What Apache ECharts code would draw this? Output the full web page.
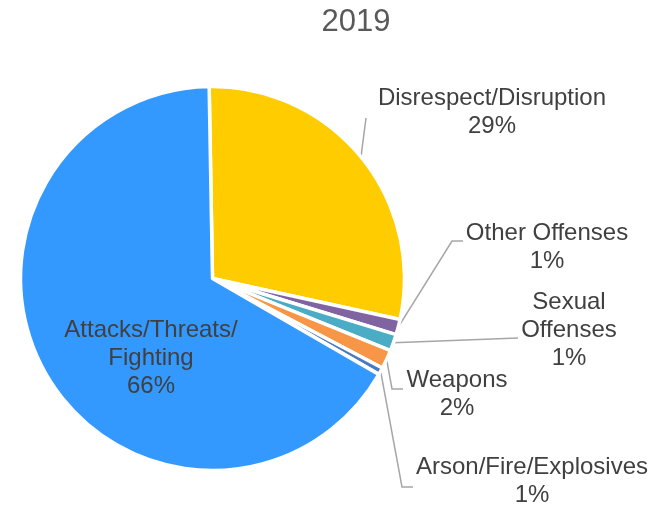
<!DOCTYPE html>
<html>
<head>
<meta charset="utf-8">
<script src="https://cdn.jsdelivr.net/npm/echarts@6/dist/echarts.min.js"></script>
<style>
  html, body { margin: 0; padding: 0; background: #fff; }
  #chart { width: 654px; height: 505px; }
</style>
</head>
<body>
<div id="chart"></div>
<script>
// Discipline incidents by category, 2019 (share of all incidents, %)
const categories = [
  'Disrespect/Disruption',
  'Other Offenses',
  'Sexual Offenses',
  'Weapons',
  'Arson/Fire/Explosives',
  'Attacks/Threats/Fighting'
];
const shares = [28.7, 1.3, 1.4, 1.6, 0.6, 66.4];
const chartTitle = '2019';

// Label text as it is broken over lines
const labelLines = {
  'Disrespect/Disruption': ['Disrespect/Disruption'],
  'Other Offenses': ['Other Offenses'],
  'Sexual Offenses': ['Sexual', 'Offenses'],
  'Weapons': ['Weapons'],
  'Arson/Fire/Explosives': ['Arson/Fire/Explosives'],
  'Attacks/Threats/Fighting': ['Attacks/Threats/', 'Fighting']
};

const sliceColors = ['#FFCC00', '#8064A2', '#4BACC6', '#F79646', '#4A7BC0', '#3399FF'];

// Label block centres and leader-line bends (pixels)
const labelPlacement = {
  'Disrespect/Disruption': { x: 492, y: 112, bends: [[366, 118]] },
  'Other Offenses':        { x: 547, y: 247, bends: [[452, 241], [463, 241]] },
  'Sexual Offenses':       { x: 569, y: 330, bends: [[518, 338]] },
  'Weapons':               { x: 457, y: 394, bends: [[392, 389], [403, 389]] },
  'Arson/Fire/Explosives': { x: 532, y: 481, bends: [[402, 487], [413, 487]] },
  'Attacks/Threats/Fighting': { x: 151, y: 358, bends: null }
};

const chart = echarts.init(document.getElementById('chart'), null, { renderer: 'canvas' });

const pieData = categories.map((name, i) => ({
  name: name,
  value: shares[i],
  itemStyle: { color: sliceColors[i] },
  labelLine: { show: labelPlacement[name].bends !== null }
}));

chart.setOption({
  animation: false,
  backgroundColor: '#ffffff',
  title: {
    text: chartTitle,
    left: 351,
    top: 2,
    textAlign: 'center',
    textStyle: {
      fontFamily: 'Liberation Sans, Arial, sans-serif',
      fontSize: 31,
      fontWeight: 'normal',
      color: '#595959'
    }
  },
  series: [{
    type: 'pie',
    center: [212.5, 278.5],
    radius: [0, 192],
    startAngle: 91,
    clockwise: true,
    avoidLabelOverlap: false,
    itemStyle: { borderColor: '#ffffff', borderWidth: 3.5 },
    label: {
      show: true,
      position: 'outside',
      fontFamily: 'Liberation Sans, Arial, sans-serif',
      fontSize: 24,
      lineHeight: 28,
      color: '#404040',
      align: 'center',
      formatter: function (p) {
        return labelLines[p.name].concat([Math.round(p.value) + '%']).join('\n');
      }
    },
    labelLine: {
      show: true,
      length: 10,
      length2: 10,
      smooth: false,
      lineStyle: { color: '#A6A6A6', width: 1.5 }
    },
    labelLayout: function (params) {
      const name = categories[params.dataIndex];
      const place = labelPlacement[name];
      const out = { x: place.x, y: place.y, align: 'center', verticalAlign: 'middle' };
      if (place.bends && params.labelLinePoints) {
        const start = params.labelLinePoints[0];
        const pts = [start].concat(place.bends);
        while (pts.length < 3) pts.push(pts[pts.length - 1]);
        out.labelLinePoints = pts;
      }
      return out;
    },
    emphasis: { disabled: true },
    data: pieData
  }]
});
</script>
</body>
</html>
